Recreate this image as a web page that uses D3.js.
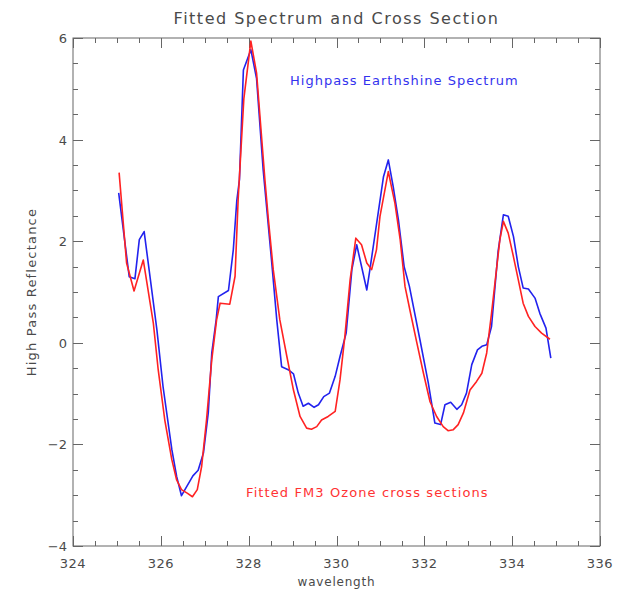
<!DOCTYPE html>
<html>
<head>
<meta charset="utf-8">
<script src="https://cdn.jsdelivr.net/npm/d3@7"></script>
<style>
  html, body { margin: 0; padding: 0; background: #fff; }
  svg text { font-family: "DejaVu Sans", sans-serif; fill: #4a4a4a; }
</style>
</head>
<body>
<svg id="chart" width="624" height="593"></svg>
<script>
// Highpass earthshine spectrum (blue)
const blueWl = [325.04, 325.28, 325.41, 325.51, 325.62, 325.91, 326.05, 326.25, 326.36, 326.47,
  326.73, 326.85, 326.97, 327.08, 327.16, 327.26, 327.31, 327.54, 327.65, 327.73, 327.79, 327.88,
  328.05, 328.18, 328.33, 328.52, 328.64, 328.75, 328.90, 329.02, 329.13, 329.24, 329.36, 329.49,
  329.59, 329.71, 329.84, 329.97, 330.08, 330.22, 330.35, 330.46, 330.69, 330.76, 331.07, 331.18,
  331.29, 331.41, 331.54, 331.66, 331.90, 332.09, 332.24, 332.37, 332.47, 332.60, 332.74, 332.85,
  332.96, 333.08, 333.21, 333.31, 333.42, 333.53, 333.68, 333.80, 333.91, 334.03, 334.14, 334.25,
  334.37, 334.52, 334.63, 334.77, 334.88];
const blueVal = [2.95, 1.30, 1.26, 2.03, 2.19, 0.26, -0.86, -2.10, -2.63, -3.01,
  -2.62, -2.51, -2.17, -1.38, -0.20, 0.45, 0.91, 1.03, 1.83, 2.80, 3.21, 5.37,
  5.77, 5.20, 3.41, 1.63, 0.45, -0.47, -0.53, -0.61, -0.99, -1.25, -1.19, -1.27,
  -1.22, -1.06, -0.99, -0.66, -0.27, 0.19, 1.44, 1.93, 1.04, 1.44, 3.27, 3.60,
  3.08, 2.42, 1.50, 1.11, 0.06, -0.79, -1.58, -1.61, -1.22, -1.17, -1.31, -1.22,
  -0.99, -0.43, -0.14, -0.07, -0.04, 0.32, 1.80, 2.52, 2.49, 2.09, 1.50, 1.08,
  1.06, 0.88, 0.58, 0.29, -0.30];

// Fitted FM3 ozone cross sections (red)
const redWl = [325.05, 325.22, 325.39, 325.60, 325.83, 325.94, 326.09, 326.25, 326.36, 326.47,
  326.60, 326.72, 326.83, 326.93, 327.04, 327.16, 327.27, 327.35, 327.57, 327.69, 327.76, 327.89,
  328.05, 328.18, 328.37, 328.45, 328.56, 328.71, 328.87, 329.02, 329.17, 329.32, 329.43, 329.55,
  329.66, 329.81, 329.97, 330.08, 330.19, 330.31, 330.44, 330.57, 330.69, 330.80, 330.91, 330.99,
  331.18, 331.33, 331.45, 331.56, 331.67, 331.83, 331.98, 332.13, 332.28, 332.43, 332.54, 332.66,
  332.77, 332.89, 333.04, 333.19, 333.31, 333.42, 333.53, 333.65, 333.72, 333.80, 333.91, 334.02,
  334.14, 334.25, 334.37, 334.52, 334.67, 334.86];
const redVal = [3.35, 1.57, 1.02, 1.63, 0.38, -0.53, -1.52, -2.30, -2.70, -2.89,
  -2.96, -3.03, -2.89, -2.43, -1.52, -0.33, 0.45, 0.78, 0.76, 1.31, 2.81, 4.80,
  5.94, 5.31, 3.21, 2.42, 1.44, 0.45, -0.27, -0.93, -1.45, -1.68, -1.70, -1.65,
  -1.52, -1.45, -1.35, -0.73, 0.12, 1.24, 2.06, 1.93, 1.57, 1.44, 1.83, 2.49,
  3.37, 2.75, 2.03, 1.11, 0.65, 0.00, -0.60, -1.16, -1.45, -1.65, -1.73, -1.71,
  -1.61, -1.38, -0.93, -0.76, -0.60, -0.20, 0.58, 1.50, 2.03, 2.39, 2.16, 1.73,
  1.24, 0.78, 0.52, 0.32, 0.19, 0.07];

const xMajorTicks = [324, 326, 328, 330, 332, 334, 336];
const yMajorTicks = [-4, -2, 0, 2, 4, 6];

const titleText = "Fitted Spectrum and Cross Section";
const xLabel = "wavelength";
const yLabel = "High Pass Reflectance";
const blueLabel = "Highpass Earthshine Spectrum";
const redLabel = "Fitted FM3 Ozone cross sections";

const svg = d3.select("#chart");
const plotL = 73, plotR = 600, plotT = 38, plotB = 546;

const x = d3.scaleLinear().domain([324, 336]).range([plotL, plotR]);
const y = d3.scaleLinear().domain([-4, 6]).range([plotB, plotT]);

const axisColor = "#666";

// frame
svg.append("rect")
  .attr("x", plotL).attr("y", plotT)
  .attr("width", plotR - plotL).attr("height", plotB - plotT)
  .attr("fill", "none").attr("stroke", axisColor).attr("stroke-width", 1);

// inward ticks on all four sides
const xMinor = d3.range(324, 336.01, 0.5);
const yMinor = d3.range(-4, 6.01, 0.5);
const isMajor = v => Math.abs(v / 2 - Math.round(v / 2)) < 1e-6;

const ticks = svg.append("g").attr("stroke", axisColor).attr("stroke-width", 1);
xMinor.forEach(v => {
  const len = isMajor(v) ? 10 : 5;
  const px = Math.round(x(v)) + 0.5;
  ticks.append("line").attr("x1", px).attr("x2", px).attr("y1", plotB).attr("y2", plotB - len);
  ticks.append("line").attr("x1", px).attr("x2", px).attr("y1", plotT).attr("y2", plotT + len);
});
yMinor.forEach(v => {
  const len = isMajor(v) ? 10 : 5;
  const py = Math.round(y(v)) + 0.5;
  ticks.append("line").attr("y1", py).attr("y2", py).attr("x1", plotL).attr("x2", plotL + len);
  ticks.append("line").attr("y1", py).attr("y2", py).attr("x1", plotR).attr("x2", plotR - len);
});

// tick labels
svg.append("g").selectAll("text").data(xMajorTicks).join("text")
  .attr("x", d => x(d)).attr("y", plotB + 22)
  .attr("text-anchor", "middle").attr("font-size", 13).attr("letter-spacing", 0.5)
  .text(d => d);
svg.append("g").selectAll("text").data(yMajorTicks).join("text")
  .attr("x", plotL - 6).attr("y", d => y(d) + 5)
  .attr("text-anchor", "end").attr("font-size", 13)
  .text(d => d < 0 ? "\u2212" + Math.abs(d) : d);

// titles
svg.append("text").attr("x", (plotL + plotR) / 2).attr("y", 24)
  .attr("text-anchor", "middle").attr("font-size", 16).attr("letter-spacing", 1.5)
  .text(titleText);
svg.append("text").attr("x", (plotL + plotR) / 2).attr("y", 586)
  .attr("text-anchor", "middle").attr("font-size", 12).attr("letter-spacing", 0.8)
  .text(xLabel);
svg.append("text")
  .attr("transform", `translate(36,${(plotT + plotB) / 2}) rotate(-90)`)
  .attr("text-anchor", "middle").attr("font-size", 13).attr("letter-spacing", 1.2)
  .text(yLabel);

// spectra
const line = d3.line().x(d => x(d[0])).y(d => y(d[1]));
svg.append("path").datum(d3.zip(blueWl, blueVal))
  .attr("d", line).attr("fill", "none").attr("stroke", "#2222ee").attr("stroke-width", 1.6)
  .attr("stroke-linejoin", "round");
svg.append("path").datum(d3.zip(redWl, redVal))
  .attr("d", line).attr("fill", "none").attr("stroke", "#ff2222").attr("stroke-width", 1.6)
  .attr("stroke-linejoin", "round");

// series annotations
svg.append("text").attr("x", 290).attr("y", 85).attr("letter-spacing", 1)
  .attr("font-size", 13).style("fill", "#3333ee").text(blueLabel);
svg.append("text").attr("x", 246).attr("y", 497).attr("letter-spacing", 1.1)
  .attr("font-size", 13).style("fill", "#ff3333").text(redLabel);
</script>
</body>
</html>
